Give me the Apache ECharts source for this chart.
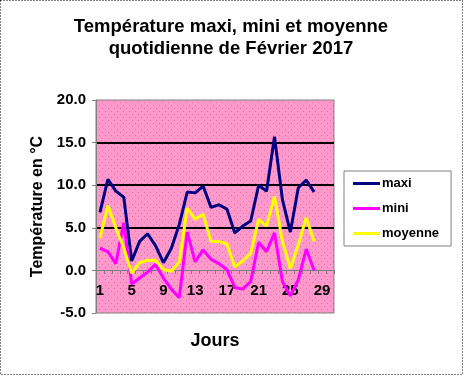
<!DOCTYPE html>
<html>
<head>
<meta charset="utf-8">
<script src="https://cdn.jsdelivr.net/npm/echarts@6/dist/echarts.min.js"></script>
<style>
  html, body { margin: 0; padding: 0; background: #fff; }
  #chart { width: 464px; height: 376px; }
</style>
</head>
<body>
<div id="chart"></div>
<script>
// jours 1..30 sur l'axe (février = 28 jours de données)
const jours = Array.from({ length: 30 }, (_, i) => String(i + 1));
const maxi = [6.8, 10.7, 9.3, 8.6, 1.1, 3.4, 4.3, 2.9, 0.9, 2.6, 5.4, 9.2, 9.1, 9.9,
  7.4, 7.7, 7.2, 4.4, 5.2, 5.8, 10.0, 9.3, 15.7, 8.3, 4.5, 9.7, 10.6, 9.2];
const mini = [2.6, 2.2, 0.8, 5.6, -1.6, -0.9, -0.2, 0.7, -0.9, -2.2, -3.2, 4.5, 1.0, 2.4,
  1.3, 0.8, 0.1, -2.0, -2.2, -1.3, 3.3, 2.2, 4.4, -1.3, -3.0, -1.1, 2.5, 0.0];
const moyenne = [3.8, 7.6, 5.0, 2.6, -0.3, 0.9, 1.2, 1.2, 0.1, -0.1, 1.0, 7.3, 6.0, 6.6,
  3.4, 3.4, 3.1, 0.4, 1.1, 2.0, 6.0, 5.2, 8.7, 3.4, 0.2, 3.0, 6.2, 3.4];

const font = "Liberation Sans";

// fond rose pointillé de la zone de tracé
function makePattern() {
  const c = document.createElement("canvas");
  c.width = 6;
  c.height = 6;
  const ctx = c.getContext("2d");
  ctx.fillStyle = "#ff99cc";
  ctx.fillRect(0, 0, 6, 6);
  ctx.fillStyle = "#d9739f";
  ctx.fillRect(0, 0, 1, 1);
  ctx.fillRect(3, 3, 1, 1);
  return c;
}

const chart = echarts.init(document.getElementById("chart"));

const option = {
  animation: false,
  title: {
    text: "Température maxi, mini et moyenne\nquotidienne de Février 2017",
    left: 226,
    top: 11,
    textAlign: "center",
    textStyle: {
      fontFamily: font,
      fontWeight: "bold",
      fontSize: 18.5,
      lineHeight: 22,
      color: "#000",
    },
  },
  legend: {
    orient: "vertical",
    left: 344,
    top: 171,
    padding: [6, 12, 6, 9],
    itemGap: 12,
    itemWidth: 27,
    itemHeight: 3,
    icon: "rect",
    borderColor: "#808080",
    borderWidth: 1,
    backgroundColor: "#fff",
    textStyle: {
      fontFamily: font,
      fontWeight: "bold",
      fontSize: 13,
      color: "#000",
      padding: [0, 0, 0, -3],
    },
    data: ["maxi", "mini", "moyenne"],
  },
  grid: {
    left: 96,
    right: 130,
    top: 100,
    bottom: 63,
    outerBoundsMode: "none",
    containLabel: false,
    show: true,
    backgroundColor: { image: makePattern(), repeat: "repeat" },
    borderColor: "#808080",
    borderWidth: 1,
  },
  xAxis: {
    type: "category",
    data: jours,
    boundaryGap: true,
    // l'axe des jours passe par 0 °C
    offset: -43,
    name: "Jours",
    nameLocation: "middle",
    nameGap: 62,
    nameMoveOverlap: false,
    nameTextStyle: {
      fontFamily: font,
      fontWeight: "bold",
      fontSize: 18,
      color: "#000",
    },
    axisLine: { onZero: false, lineStyle: { color: "#808080", width: 1 } },
    axisTick: { show: true, interval: 0, length: 4, lineStyle: { color: "#808080" } },
    axisLabel: {
      interval: 3,
      margin: 13,
      fontFamily: font,
      fontWeight: "bold",
      fontSize: 15,
      color: "#000",
    },
    splitLine: { show: false },
  },
  yAxis: {
    type: "value",
    min: -5,
    max: 20,
    interval: 5,
    name: "Température en °C",
    nameLocation: "middle",
    nameRotate: 90,
    nameGap: 50,
    nameTextStyle: {
      fontFamily: font,
      fontWeight: "bold",
      fontSize: 16,
      color: "#000",
    },
    axisLine: { show: true, lineStyle: { color: "#808080" } },
    axisTick: { show: true, length: 4, lineStyle: { color: "#808080" } },
    axisLabel: {
      margin: 10,
      fontFamily: font,
      fontWeight: "bold",
      fontSize: 15,
      color: "#000",
      formatter: (v) => v.toFixed(1),
    },
    splitLine: {
      show: true,
      lineStyle: {
        color: ["rgba(0,0,0,0)", "rgba(0,0,0,0)", "#000", "#000", "#000", "rgba(0,0,0,0)"],
        width: 2,
      },
    },
  },
  series: [
    {
      name: "maxi",
      type: "line",
      data: maxi,
      symbol: "none",
      lineStyle: { color: "#000080", width: 3 },
      itemStyle: { color: "#000080" },
    },
    {
      name: "mini",
      type: "line",
      data: mini,
      symbol: "none",
      lineStyle: { color: "#ff00ff", width: 3 },
      itemStyle: { color: "#ff00ff" },
    },
    {
      name: "moyenne",
      type: "line",
      data: moyenne,
      symbol: "none",
      lineStyle: { color: "#ffff00", width: 3 },
      itemStyle: { color: "#ffff00" },
    },
  ],
  graphic: [
    {
      type: "rect",
      shape: { x: 0.5, y: 0.5, width: 462, height: 374 },
      style: { fill: "none", stroke: "#000", lineWidth: 1, lineDash: [1, 2] },
      silent: true,
    },
  ],
};

chart.setOption(option);
</script>
</body>
</html>
